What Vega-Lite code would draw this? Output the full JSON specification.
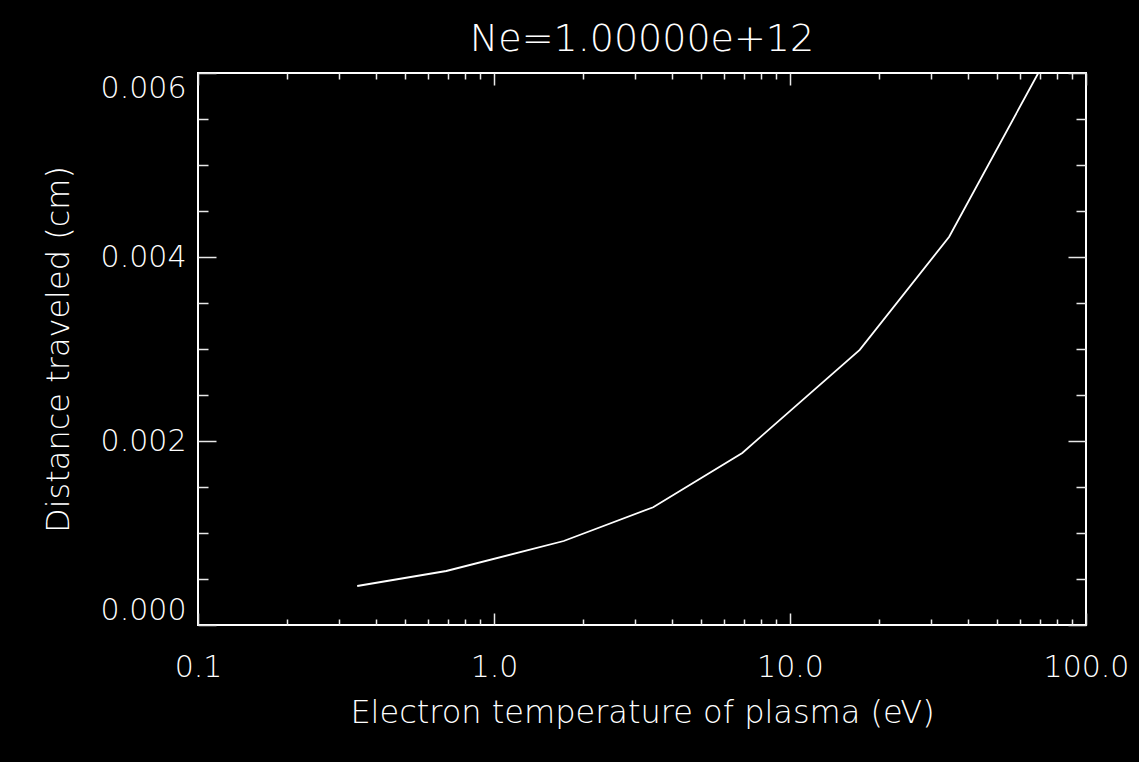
{
  "$schema": "https://vega.github.io/schema/vega-lite/v6.json",
  "width": 888,
  "height": 552,
  "autosize": "none",
  "padding": {"left": 198, "top": 73, "right": 53, "bottom": 137},
  "background": "black",
  "title": {
    "text": "Ne=1.00000e+12",
    "color": "white",
    "font": "DejaVu Sans",
    "fontSize": 38,
    "fontWeight": 200,
    "anchor": "middle",
    "baseline": "alphabetic",
    "offset": -17
  },
  "data": {
    "values": [
      {"T_eV": 0.345, "distance_cm": 0.000424},
      {"T_eV": 0.69, "distance_cm": 0.000587},
      {"T_eV": 1.72, "distance_cm": 0.000913},
      {"T_eV": 3.45, "distance_cm": 0.00128},
      {"T_eV": 6.9, "distance_cm": 0.00187},
      {"T_eV": 17.2, "distance_cm": 0.00299},
      {"T_eV": 34.5, "distance_cm": 0.00422},
      {"T_eV": 69.0, "distance_cm": 0.00600}
    ]
  },
  "config": {
    "view": {"stroke": "white", "strokeWidth": 2},
    "axis": {
      "domain": false,
      "grid": false,
      "tickColor": "#e8e8e8",
      "tickWidth": 1.5,
      "labelColor": "white",
      "labelFont": "DejaVu Sans",
      "labelFontWeight": 200,
      "labelFontSize": 30,
      "titleColor": "white",
      "titleFont": "DejaVu Sans",
      "titleFontWeight": 200,
      "titleFontSize": 32
    }
  },
  "resolve": {"axis": {"x": "independent", "y": "independent"}},
  "layer": [
    {
      "mark": {"type": "line", "color": "white", "strokeWidth": 1.8, "clip": true},
      "encoding": {
        "x": {
          "field": "T_eV", "type": "quantitative",
          "scale": {"type": "log", "domain": [0.1, 100], "nice": false},
          "axis": {
            "orient": "bottom", "title": "Electron temperature of plasma (eV)",
            "values": [0.1, 1, 10, 100], "format": ".1f",
            "ticks": false, "tickSize": 0, "labelPadding": 27, "labelFlush": false,
            "labelBaseline": "top",
            "titleX": 444, "titleY": 97, "titleBaseline": "alphabetic", "titleAlign": "center"
          }
        },
        "y": {
          "field": "distance_cm", "type": "quantitative",
          "scale": {"domain": [0, 0.006], "nice": false},
          "axis": {
            "orient": "left", "title": "Distance traveled (cm)",
            "values": [0, 0.002, 0.004, 0.006], "format": ".3f",
            "ticks": false, "tickSize": 0, "labelPadding": 12, "labelFlush": true,
            "labelFlushOffset": 0,
            "titleX": -130, "titleY": 276, "titleAngle": 270,
            "titleBaseline": "alphabetic", "titleAlign": "center"
          }
        }
      }
    },
    {
      "mark": {"type": "line", "opacity": 0},
      "encoding": {
        "x": {"field": "T_eV", "type": "quantitative",
          "axis": {"orient": "bottom", "title": null, "labels": false,
            "values": [0.1, 1, 10, 100], "tickSize": -12}},
        "y": {"field": "distance_cm", "type": "quantitative",
          "axis": {"orient": "left", "title": null, "labels": false,
            "values": [0, 0.002, 0.004, 0.006], "tickSize": -18}}
      }
    },
    {
      "mark": {"type": "line", "opacity": 0},
      "encoding": {
        "x": {"field": "T_eV", "type": "quantitative",
          "axis": {"orient": "bottom", "title": null, "labels": false,
            "values": [0.2, 0.3, 0.4, 0.5, 0.6, 0.7, 0.8, 0.9, 2, 3, 4, 5, 6, 7, 8, 9, 20, 30, 40, 50, 60, 70, 80, 90],
            "tickSize": -6}},
        "y": {"field": "distance_cm", "type": "quantitative",
          "axis": {"orient": "left", "title": null, "labels": false,
            "values": [0.0005, 0.001, 0.0015, 0.0025, 0.003, 0.0035, 0.0045, 0.005, 0.0055],
            "tickSize": -10}}
      }
    },
    {
      "mark": {"type": "line", "opacity": 0},
      "encoding": {
        "x": {"field": "T_eV", "type": "quantitative",
          "axis": {"orient": "top", "title": null, "labels": false,
            "values": [0.1, 1, 10, 100], "tickSize": -12}},
        "y": {"field": "distance_cm", "type": "quantitative",
          "axis": {"orient": "right", "title": null, "labels": false,
            "values": [0, 0.002, 0.004, 0.006], "tickSize": -18}}
      }
    },
    {
      "mark": {"type": "line", "opacity": 0},
      "encoding": {
        "x": {"field": "T_eV", "type": "quantitative",
          "axis": {"orient": "top", "title": null, "labels": false,
            "values": [0.2, 0.3, 0.4, 0.5, 0.6, 0.7, 0.8, 0.9, 2, 3, 4, 5, 6, 7, 8, 9, 20, 30, 40, 50, 60, 70, 80, 90],
            "tickSize": -6}},
        "y": {"field": "distance_cm", "type": "quantitative",
          "axis": {"orient": "right", "title": null, "labels": false,
            "values": [0.0005, 0.001, 0.0015, 0.0025, 0.003, 0.0035, 0.0045, 0.005, 0.0055],
            "tickSize": -10}}
      }
    }
  ]
}
